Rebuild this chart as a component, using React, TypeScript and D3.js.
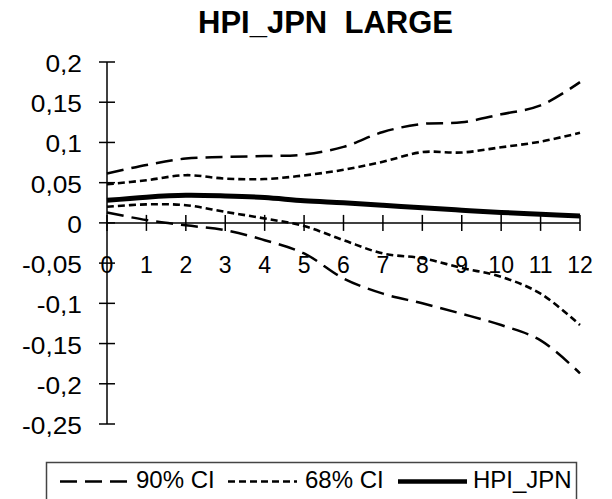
import React from "react";
import * as d3 from "d3";

const periods = [0, 1, 2, 3, 4, 5, 6, 7, 8, 9, 10, 11, 12];
const upper90 = [0.0614, 0.072, 0.08, 0.082, 0.083, 0.085, 0.0945, 0.113, 0.123, 0.125, 0.135, 0.146, 0.175];
const upper68 = [0.048, 0.053, 0.0593, 0.055, 0.0545, 0.059, 0.066, 0.076, 0.088, 0.0875, 0.094, 0.101, 0.112];
const hpiJpn = [0.028, 0.032, 0.0343, 0.0335, 0.0315, 0.0274, 0.025, 0.022, 0.0187, 0.0158, 0.013, 0.0108, 0.0087];
const lower68 = [0.02, 0.023, 0.022, 0.0137, 0.0055, -0.004, -0.0215, -0.038, -0.044, -0.056, -0.067, -0.088, -0.127];
const lower90 = [0.013, 0.0035, -0.003, -0.009, -0.0215, -0.038, -0.069, -0.088, -0.1, -0.113, -0.127, -0.146, -0.187];

const yTicks = [0.2, 0.15, 0.1, 0.05, 0, -0.05, -0.1, -0.15, -0.2, -0.25];
const yTickLabels = ["0,2", "0,15", "0,1", "0,05", "0", "-0,05", "-0,1", "-0,15", "-0,2", "-0,25"];
const xTickLabels = ["0", "1", "2", "3", "4", "5", "6", "7", "8", "9", "10", "11", "12"];

const title = "HPI_JPN  LARGE";
const legendLabels = ["90% CI", "68% CI", "HPI_JPN"];

const FONT = "'Liberation Sans', Arial, Helvetica, sans-serif";

export default function App() {
  const x = d3.scaleLinear().domain([0, 12]).range([107, 580]);
  const y = d3.scaleLinear().domain([-0.25, 0.2]).range([424, 62]);
  const line = d3
    .line<number>()
    .x((_, i) => x(periods[i]))
    .y((d) => y(d))
    .curve(d3.curveCatmullRom.alpha(0.5));

  const y0 = y(0);

  return (
    <svg
      width={612}
      height={499}
      style={{ position: "absolute", left: 0, top: 0, background: "#fff" }}
      fontFamily={FONT}
    >
      <rect x={0} y={0} width={612} height={499} fill="#fff" />
      <text
        x={325.5}
        y={33}
        textAnchor="middle"
        fontSize={31}
        fontWeight="bold"
        style={{ whiteSpace: "pre" }}
        fill="#000"
      >
        {title}
      </text>

      {/* y axis */}
      <line x1={x(0)} x2={x(0)} y1={y(0.2)} y2={y(-0.25)} stroke="#000" strokeWidth={1.5} />
      {yTicks.map((t, i) => (
        <g key={"yt" + i}>
          <line x1={x(0) - 8} x2={x(0) + 8} y1={y(t)} y2={y(t)} stroke="#000" strokeWidth={1.5} />
          <text
            transform={`translate(82,${y(t) + 10}) scale(1.12,1)`}
            textAnchor="end"
            fontSize={23.5}
            fill="#000"
          >
            {yTickLabels[i]}
          </text>
        </g>
      ))}

      {/* x axis */}
      <line x1={x(0)} x2={x(12)} y1={y0} y2={y0} stroke="#000" strokeWidth={1.5} />
      {periods.map((p, i) => (
        <g key={"xt" + i}>
          <line x1={x(p)} x2={x(p)} y1={y0 - 8} y2={y0 + 8} stroke="#000" strokeWidth={1.5} />
          <text x={x(p)} y={273} textAnchor="middle" fontSize={23} fill="#000">
            {xTickLabels[i]}
          </text>
        </g>
      ))}

      {/* series */}
      <path d={line(upper90) || ""} fill="none" stroke="#000" strokeWidth={2.5} strokeDasharray="17,8" />
      <path d={line(lower90) || ""} fill="none" stroke="#000" strokeWidth={2.5} strokeDasharray="17,8" />
      <path d={line(upper68) || ""} fill="none" stroke="#000" strokeWidth={2.6} strokeDasharray="7,4" />
      <path d={line(lower68) || ""} fill="none" stroke="#000" strokeWidth={2.6} strokeDasharray="7,4" />
      <path d={line(hpiJpn) || ""} fill="none" stroke="#000" strokeWidth={5} />

      {/* legend */}
      <rect x={46.5} y={462.5} width={530} height={60} fill="#fff" stroke="#444" strokeWidth={1.5} />
      <line x1={60} x2={128} y1={481.5} y2={481.5} stroke="#000" strokeWidth={2.5} strokeDasharray="17,8" />
      <text x={136} y={488} fontSize={24} fill="#000">{legendLabels[0]}</text>
      <line x1={228} x2={297} y1={481.5} y2={481.5} stroke="#000" strokeWidth={2.5} strokeDasharray="7,4" />
      <text x={305} y={488} fontSize={24} fill="#000">{legendLabels[1]}</text>
      <line x1={398} x2={467} y1={481.5} y2={481.5} stroke="#000" strokeWidth={4.5} />
      <text x={473} y={488} fontSize={24} fill="#000">{legendLabels[2]}</text>
    </svg>
  );
}
